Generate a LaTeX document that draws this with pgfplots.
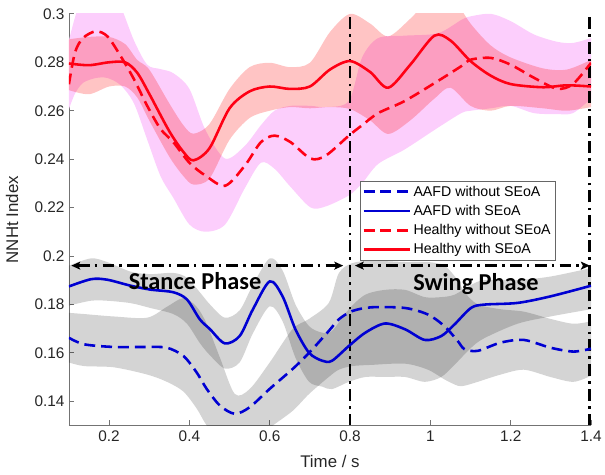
\documentclass[border=0pt]{standalone}
\usepackage{fontspec}
\setmainfont{Liberation Sans}
\newfontfamily\phasefont{Carlito}
\usepackage{pgfplots}
\pgfplotsset{compat=1.18}
\usepackage{pgfplotstable}
\usepgfplotslibrary{fillbetween}
\usetikzlibrary{arrows.meta}
\definecolor{myblue}{RGB}{0,0,210}
\definecolor{myred}{RGB}{255,0,20}
\definecolor{lilac}{RGB}{252,206,252}

\pgfplotstableread{
x m lo hi
0.10 0.2795 0.2685 0.2895
0.15 0.2788 0.2668 0.2905
0.20 0.2800 0.2700 0.2905
0.24 0.2800 0.2700 0.2875
0.27 0.2757 0.2655 0.2810
0.30 0.2670 0.2560 0.2770
0.35 0.2515 0.2410 0.2630
0.385 0.2430 0.2330 0.2540
0.41 0.2395 0.2295 0.2505
0.45 0.2445 0.2320 0.2545
0.50 0.2610 0.2480 0.2690
0.55 0.2680 0.2570 0.2780
0.60 0.2700 0.2600 0.2798
0.65 0.2690 0.2615 0.2780
0.70 0.2700 0.2610 0.2798
0.75 0.2770 0.2615 0.2925
0.80 0.2805 0.2607 0.3000
0.85 0.2760 0.2560 0.2960
0.895 0.2695 0.2504 0.2907
0.95 0.2790 0.2560 0.2980
1.01 0.2910 0.2650 0.3080
1.05 0.2890 0.2695 0.3080
1.10 0.2805 0.2620 0.2960
1.15 0.2745 0.2600 0.2870
1.20 0.2710 0.2620 0.2820
1.28 0.2697 0.2610 0.2775
1.34 0.2705 0.2600 0.2770
1.40 0.2700 0.2615 0.2810
}\HW

\pgfplotstableread{
x m lo hi
0.100 0.2709 0.2607 0.2890
0.115 0.2840 0.2670 0.2985
0.135 0.2900 0.2715 0.3080
0.167 0.2928 0.2735 0.3120
0.196 0.2907 0.2735 0.3120
0.229 0.2825 0.2705 0.3030
0.262 0.2730 0.2630 0.2890
0.295 0.2620 0.2480 0.2790
0.328 0.2525 0.2330 0.2772
0.360 0.2470 0.2240 0.2755
0.400 0.2385 0.2130 0.2690
0.440 0.2332 0.2100 0.2520
0.489 0.2290 0.2130 0.2402
0.538 0.2373 0.2280 0.2455
0.578 0.2470 0.2385 0.2540
0.612 0.2497 0.2360 0.2600
0.652 0.2470 0.2285 0.2620
0.702 0.2402 0.2200 0.2620
0.740 0.2415 0.2205 0.2615
0.797 0.2497 0.2250 0.2640
0.830 0.2540 0.2300 0.2820
0.870 0.2590 0.2380 0.2900
0.936 0.2640 0.2440 0.2910
1.019 0.2723 0.2530 0.2920
1.077 0.2784 0.2590 0.2975
1.101 0.2811 0.2600 0.2990
1.151 0.2818 0.2610 0.3000
1.200 0.2790 0.2620 0.2970
1.258 0.2736 0.2590 0.2915
1.315 0.2691 0.2586 0.2885
1.355 0.2710 0.2590 0.2880
1.400 0.2798 0.2650 0.2900
}\HN

\pgfplotstableread{
x m lo hi
0.100 0.1874 0.1795 0.1960
0.155 0.1904 0.1815 0.1990
0.195 0.1902 0.1815 0.1975
0.254 0.1877 0.1805 0.1935
0.303 0.1861 0.1785 0.1925
0.360 0.1850 0.1760 0.1930
0.394 0.1820 0.1720 0.1910
0.426 0.1738 0.1640 0.1850
0.451 0.1698 0.1590 0.1800
0.488 0.1639 0.1535 0.1745
0.525 0.1669 0.1560 0.1775
0.558 0.1779 0.1680 0.1880
0.600 0.1895 0.1792 0.1990
0.632 0.1833 0.1730 0.1940
0.664 0.1697 0.1580 0.1800
0.698 0.1600 0.1480 0.1710
0.731 0.1567 0.1460 0.1683
0.755 0.1567 0.1450 0.1690
0.797 0.1628 0.1480 0.1780
0.838 0.1683 0.1500 0.1840
0.887 0.1721 0.1500 0.1860
0.937 0.1697 0.1500 0.1860
0.986 0.1653 0.1480 0.1830
1.027 0.1669 0.1500 0.1830
1.060 0.1717 0.1550 0.1840
1.101 0.1785 0.1620 0.1880
1.134 0.1799 0.1660 0.1900
1.217 0.1806 0.1720 0.1900
1.299 0.1833 0.1750 0.1915
1.400 0.1877 0.1780 0.1950
}\AW

\pgfplotstableread{
x m lo hi
0.100 0.1662 0.1560 0.1765
0.138 0.1635 0.1545 0.1760
0.212 0.1624 0.1540 0.1750
0.295 0.1624 0.1510 0.1745
0.344 0.1621 0.1480 0.1790
0.385 0.1587 0.1440 0.1826
0.418 0.1519 0.1370 0.1790
0.443 0.1451 0.1300 0.1720
0.476 0.1382 0.1240 0.1580
0.513 0.1348 0.1210 0.1430
0.550 0.1375 0.1220 0.1450
0.600 0.1451 0.1290 0.1560
0.657 0.1533 0.1360 0.1698
0.698 0.1600 0.1430 0.1740
0.747 0.1690 0.1500 0.1806
0.772 0.1738 0.1530 0.1929
0.805 0.1772 0.1545 0.1970
0.854 0.1788 0.1550 0.1980
0.937 0.1785 0.1555 0.1975
0.994 0.1758 0.1530 0.1975
1.035 0.1710 0.1490 0.1960
1.068 0.1649 0.1464 0.1900
1.085 0.1615 0.1464 0.1850
1.118 0.1608 0.1480 0.1800
1.175 0.1642 0.1510 0.1780
1.233 0.1653 0.1530 0.1770
1.299 0.1621 0.1500 0.1740
1.356 0.1605 0.1480 0.1720
1.400 0.1617 0.1505 0.1730
}\AN

\begin{document}
\begin{tikzpicture}
\begin{axis}[name=ax, scale only axis, width=526.5pt, height=415pt,
  xmin=0.1, xmax=1.4, ymin=0.13, ymax=0.3,
  axis x line*=bottom, axis y line*=left,
  xtick={0.2,0.4,0.6,0.8,1,1.2,1.4},
  ytick={0.14,0.16,0.18,0.2,0.22,0.24,0.26,0.28,0.3},
  tick align=inside, major tick length=5pt,
  axis line style={black!55, line width=0.8pt},
  tick style={black!55, line width=0.8pt},
  /pgf/number format/assume math mode=true,
  tick label style={font=\fontsize{15.5}{18}\selectfont, text=black!85},
  yticklabel style={xshift=-1pt},
  xticklabel style={yshift=-2pt},
  xlabel={Time / s}, ylabel={NNHt Index},
  label style={font=\fontsize{17}{20}\selectfont, text=black!85},
  xlabel style={at={(axis description cs:0.5,-0.087)}, anchor=center},
  ylabel style={at={(axis description cs:-0.109,0.5)}, anchor=center},
  legend style={at={(0.5569,0.5935)}, anchor=north west, draw=black!60, fill=white,
    font=\fontsize{14.3}{16}\selectfont, inner sep=2.5pt, row sep=3.6pt},
  legend cell align=left,
  legend image code/.code={\draw[#1] (0pt,0pt) -- (47pt,0pt);},
]
% bands
\addplot[name path=HNhi, draw=none, smooth, forget plot] table[x=x,y=hi]{\HN};
\addplot[name path=HNlo, draw=none, smooth, forget plot] table[x=x,y=lo]{\HN};
\addplot[fill=lilac, draw=none, forget plot] fill between[of=HNhi and HNlo];
\addplot[name path=HWhi, draw=none, smooth, forget plot] table[x=x,y=hi]{\HW};
\addplot[name path=HWlo, draw=none, smooth, forget plot] table[x=x,y=lo]{\HW};
\addplot[fill=red, fill opacity=0.23, draw=none, forget plot] fill between[of=HWhi and HWlo];
\addplot[name path=ANhi, draw=none, smooth, forget plot] table[x=x,y=hi]{\AN};
\addplot[name path=ANlo, draw=none, smooth, forget plot] table[x=x,y=lo]{\AN};
\addplot[fill=black, fill opacity=0.17, draw=none, forget plot] fill between[of=ANhi and ANlo];
\addplot[name path=AWhi, draw=none, smooth, forget plot] table[x=x,y=hi]{\AW};
\addplot[name path=AWlo, draw=none, smooth, forget plot] table[x=x,y=lo]{\AW};
\addplot[fill=black, fill opacity=0.17, draw=none, forget plot] fill between[of=AWhi and AWlo];
% phase lines
\addplot[black, line width=2.6pt, dash pattern=on 12pt off 5pt on 2.5pt off 5.5pt, forget plot] coordinates {(0.8,0.13) (0.8,0.3)};
\addplot[black, line width=2.6pt, dash pattern=on 12pt off 5pt on 2.5pt off 5.5pt, forget plot] coordinates {(1.3968,0.13) (1.3968,0.3)};
\addplot[black, line width=2.6pt, dash pattern=on 12pt off 5pt on 2.5pt off 5.5pt, {Stealth[length=9pt,width=8pt,inset=2pt]}-{Stealth[length=9pt,width=8pt,inset=2pt]}, forget plot] coordinates {(0.106,0.196) (0.783,0.196)};
\addplot[black, line width=2.6pt, dash pattern=on 12pt off 5pt on 2.5pt off 5.5pt, {Stealth[length=9pt,width=8pt,inset=2pt]}-{Stealth[length=9pt,width=8pt,inset=2pt]}, forget plot] coordinates {(0.812,0.196) (1.397,0.196)};
% mean curves
\addplot[myblue, line width=2.6pt, dash pattern=on 11pt off 6pt, smooth] table[x=x,y=m]{\AN};
\addplot[myblue, line width=2.6pt, smooth] table[x=x,y=m]{\AW};
\addplot[myred, line width=2.6pt, dash pattern=on 11pt off 6pt, smooth] table[x=x,y=m]{\HN};
\addplot[myred, line width=2.6pt, smooth] table[x=x,y=m]{\HW};
\legend{AAFD without SEoA, AAFD with SEoA, Healthy without SEoA, Healthy with SEoA}
\node[font=\phasefont\bfseries\fontsize{24.5}{26}\selectfont] at (axis cs:0.414,0.1895) {Stance Phase};
\node[font=\phasefont\bfseries\fontsize{24.5}{26}\selectfont] at (axis cs:1.1136,0.1882) {Swing Phase};
\end{axis}
\path ([shift={(-69.5pt,-50pt)}]ax.south west) rectangle ([shift={(9pt,14pt)}]ax.north east);
\end{tikzpicture}
\end{document}
